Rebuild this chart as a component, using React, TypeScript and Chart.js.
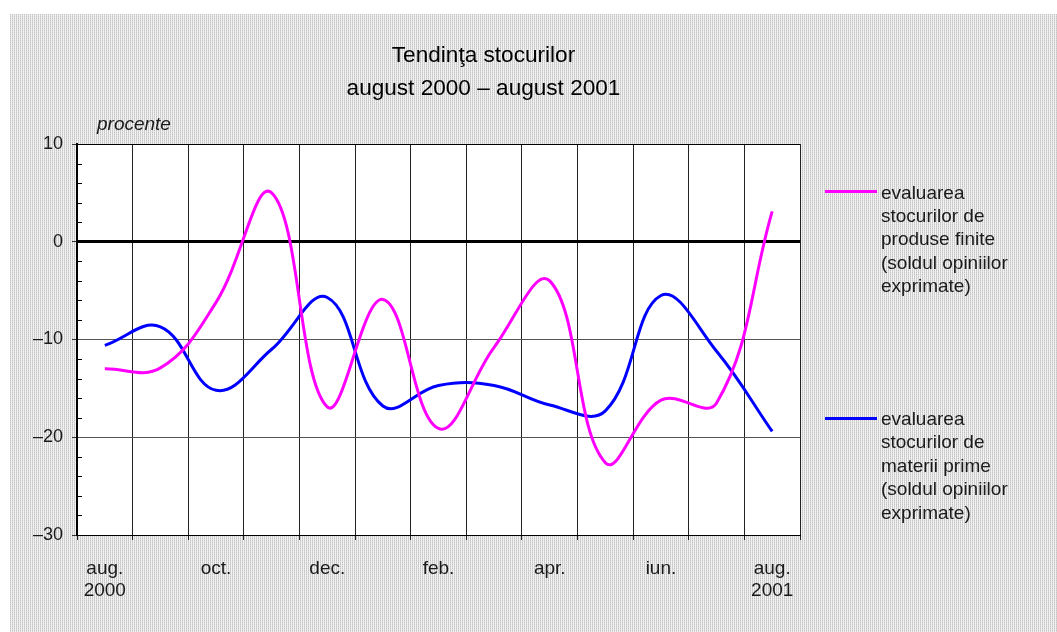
import React, { useEffect, useRef } from "react";
import { Chart, registerables } from "chart.js";

Chart.register(...registerables);

const W = 1057;
const H = 632;

const months = ["aug. 2000", "sep.", "oct.", "nov.", "dec.", "ian.", "feb.", "mar.", "apr.", "mai", "iun.", "iul.", "aug. 2001"];
const tickLabels: (string | string[])[] = [["aug.", "2000"], "", "oct.", "", "dec.", "", "feb.", "", "apr.", "", "iun.", "", ["aug.", "2001"]];
const produseFinite = [-13.0, -12.9, -6.2, 5.0, -16.9, -5.9, -19.1, -10.8, -4.0, -22.6, -16.2, -16.5, 3.1];
const materiiPrime = [-10.6, -8.7, -15.2, -11.0, -5.7, -16.8, -14.7, -14.7, -16.7, -17.3, -5.5, -11.2, -19.4];
const yMin = -30;
const yMax = 10;
const yStep = 10;
const yMinorStep = 2;
const titleLines = ["Tendinţa stocurilor", "august 2000 – august 2001"];
const yUnit = "procente";
const legendProduse = ["evaluarea", "stocurilor de", "produse finite", "(soldul opiniilor", "exprimate)"];
const legendMaterii = ["evaluarea", "stocurilor de", "materii prime", "(soldul opiniilor", "exprimate)"];

const MAGENTA = "#ff00ff";
const BLUE = "#0000ff";
const TEXT = "#1a1a1a";
const FONT = '"Liberation Sans", Arial, Helvetica, sans-serif';

function makePattern(ctx: CanvasRenderingContext2D) {
  const pc = document.createElement("canvas");
  pc.width = 2;
  pc.height = 2;
  const p = pc.getContext("2d")!;
  p.fillStyle = "#f2f2f2";
  p.fillRect(0, 0, 2, 2);
  p.fillStyle = "#c4c4c4";
  p.fillRect(0, 0, 1, 1);
  p.fillStyle = "#d6d6d6";
  p.fillRect(0, 1, 1, 1);
  return ctx.createPattern(pc, "repeat")!;
}

const decorPlugin = {
  id: "decor",
  beforeDraw(chart: any) {
    const ctx: CanvasRenderingContext2D = chart.ctx;
    const a = chart.chartArea;
    ctx.save();
    ctx.fillStyle = "#ffffff";
    ctx.fillRect(0, 0, W, H);
    ctx.fillStyle = makePattern(ctx);
    ctx.fillRect(10, 14, W - 10, H - 14);
    ctx.fillStyle = "#ffffff";
    ctx.fillRect(a.left, a.top, a.right - a.left, a.bottom - a.top);
    ctx.restore();
  },
  afterDraw(chart: any) {
    const ctx: CanvasRenderingContext2D = chart.ctx;
    const a = chart.chartArea;
    const ys = chart.scales.y;
    ctx.save();
    // minor ticks on y axis (inside)
    ctx.strokeStyle = "#000";
    ctx.lineWidth = 1;
    for (let v = yMin; v <= yMax; v += yMinorStep) {
      if (v % yStep === 0) continue;
      const y = Math.round(ys.getPixelForValue(v)) + 0.5;
      ctx.beginPath();
      ctx.moveTo(a.left, y);
      ctx.lineTo(a.left + 5, y);
      ctx.stroke();
    }
    // title
    ctx.fillStyle = "#000";
    ctx.font = `22.6px ${FONT}`;
    ctx.textAlign = "center";
    ctx.textBaseline = "alphabetic";
    ctx.fillText(titleLines[0], 483.5, 62);
    ctx.fillText(titleLines[1], 483.5, 95);
    // unit
    ctx.fillStyle = TEXT;
    ctx.font = `italic 19px ${FONT}`;
    ctx.textAlign = "left";
    ctx.fillText(yUnit, 97, 129.5);
    // legend
    const drawLegend = (lines: string[], color: string, lineY: number, baseY: number) => {
      ctx.strokeStyle = color;
      ctx.lineWidth = 3;
      ctx.beginPath();
      ctx.moveTo(825, lineY);
      ctx.lineTo(877, lineY);
      ctx.stroke();
      ctx.fillStyle = TEXT;
      ctx.font = `19px ${FONT}`;
      ctx.textAlign = "left";
      lines.forEach((t, i) => ctx.fillText(t, 881, baseY + i * 23.4));
    };
    drawLegend(legendProduse, MAGENTA, 191.5, 198.5);
    drawLegend(legendMaterii, BLUE, 418.5, 425);
    ctx.restore();
  },
};

export default function App() {
  const ref = useRef<HTMLCanvasElement>(null);
  useEffect(() => {
    const chart = new Chart(ref.current!, {
      type: "line",
      data: {
        labels: months,
        datasets: [
          {
            label: "evaluarea stocurilor de produse finite (soldul opiniilor exprimate)",
            data: produseFinite,
            borderColor: MAGENTA,
            backgroundColor: MAGENTA,
            borderWidth: 3,
            pointRadius: 0,
            tension: 0.4,
            fill: false,
          },
          {
            label: "evaluarea stocurilor de materii prime (soldul opiniilor exprimate)",
            data: materiiPrime,
            borderColor: BLUE,
            backgroundColor: BLUE,
            borderWidth: 3,
            pointRadius: 0,
            tension: 0.4,
            fill: false,
          },
        ],
      },
      options: {
        responsive: false,
        animation: false,
        devicePixelRatio: 1,
        layout: { padding: { left: 10, top: 144, right: 257, bottom: 0 } },
        plugins: {
          legend: { display: false },
          title: { display: false },
          tooltip: { enabled: false },
        },
        scales: {
          x: {
            type: "category",
            offset: true,
            afterFit: (s: any) => {
              s.height = 97;
            },
            grid: {
              offset: true,
              color: "#222",
              lineWidth: 1,
              drawTicks: true,
              tickLength: 5,
              tickColor: "#222",
            },
            border: { display: true, color: "#000", width: 1 },
            ticks: {
              autoSkip: false,
              maxRotation: 0,
              minRotation: 0,
              padding: 17,
              color: TEXT,
              font: { family: FONT, size: 19, lineHeight: 1.2 },
              callback: (_v: any, i: number) => tickLabels[i],
            },
          },
          y: {
            min: yMin,
            max: yMax,
            afterFit: (s: any) => {
              s.width = 67;
            },
            grid: {
              color: (c: any) => (c.tick && (c.tick.value === 0 || c.tick.value === yMax) ? "#000" : "#555"),
              lineWidth: (c: any) => (c.tick && c.tick.value === 0 ? 3 : 1),
              drawTicks: true,
              tickLength: 5,
              tickColor: "#333",
              tickWidth: 1,
            },
            border: { display: true, color: "#000", width: 2 },
            ticks: {
              stepSize: yStep,
              padding: 9,
              color: TEXT,
              font: { family: FONT, size: 18 },
              callback: (v: any) => (Number(v) < 0 ? "\u2013" + Math.abs(Number(v)) : String(v)),
            },
          },
        },
      },
      plugins: [decorPlugin],
    } as any);
    return () => chart.destroy();
  }, []);
  return (
    <div style={{ position: "fixed", left: 0, top: 0, width: W, height: H, background: "#fff" }}>
      <canvas ref={ref} width={W} height={H} style={{ display: "block" }} />
    </div>
  );
}
